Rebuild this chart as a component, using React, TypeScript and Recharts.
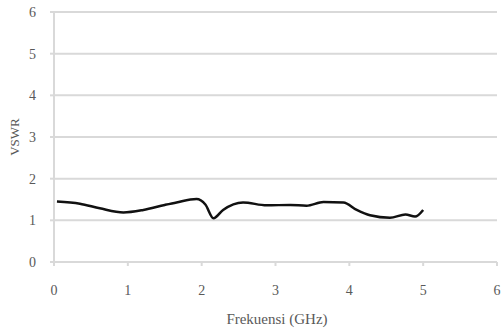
import { LineChart, Line, XAxis, YAxis, CartesianGrid } from 'recharts';

const frequency = [0.04, 0.35, 0.62, 0.94, 1.21, 1.5, 1.66, 1.93, 2.05, 2.16, 2.29, 2.56, 2.88, 3.2, 3.42, 3.65, 3.92, 4.1, 4.28, 4.55, 4.76, 4.89, 5.0];
const vswr = [1.45, 1.4, 1.29, 1.19, 1.25, 1.37, 1.43, 1.51, 1.38, 1.05, 1.25, 1.43, 1.36, 1.37, 1.35, 1.44, 1.43, 1.25, 1.12, 1.06, 1.14, 1.09, 1.25];
const xTicks = [0, 1, 2, 3, 4, 5, 6];
const yTicks = [0, 1, 2, 3, 4, 5, 6];

const data = frequency.map((f, i) => ({ f, v: vswr[i] }));

const font = "'Liberation Serif', 'Times New Roman', serif";
const gray = '#d9d9d9';
const textGray = '#595959';

function XTick({ x, y, payload }: any) {
  return (
    <text x={x} y={y + 27} textAnchor="middle" fontSize={14} fill={textGray} style={{ fontFamily: font }}>
      {payload.value}
    </text>
  );
}

function YTick({ x, y, payload }: any) {
  return (
    <text x={x - 12} y={y + 5} textAnchor="end" fontSize={14} fill={textGray} style={{ fontFamily: font }}>
      {payload.value}
    </text>
  );
}

export default function App() {
  return (
    <div style={{ position: 'absolute', left: 0, top: 0, width: 501, height: 328, background: '#fff' }}>
      <LineChart width={501} height={328} data={data} margin={{ top: 12, right: 4, bottom: 0, left: 0 }}>
        <CartesianGrid vertical={false} stroke={gray} strokeWidth={2} />
        <XAxis
          dataKey="f"
          type="number"
          domain={[0, 6]}
          ticks={xTicks}
          height={66}
          stroke={gray}
          strokeWidth={2}
          tickSize={4}
          tick={<XTick />}
        />
        <YAxis
          type="number"
          domain={[0, 6]}
          ticks={yTicks}
          width={54}
          stroke={gray}
          strokeWidth={2}
          tickSize={4}
          tick={<YTick />}
        />
        <Line type="monotone" dataKey="v" stroke="#111" strokeWidth={2.5} dot={false} isAnimationActive={false} />
        <text x={277} y={324} textAnchor="middle" fontSize={15} fill={textGray} style={{ fontFamily: font }}>
          Frekuensi (GHz)
        </text>
        <text
          x={19}
          y={137}
          textAnchor="middle"
          fontSize={13}
          fill={textGray}
          transform="rotate(-90 19 137)"
          style={{ fontFamily: font }}
        >
          VSWR
        </text>
      </LineChart>
    </div>
  );
}
